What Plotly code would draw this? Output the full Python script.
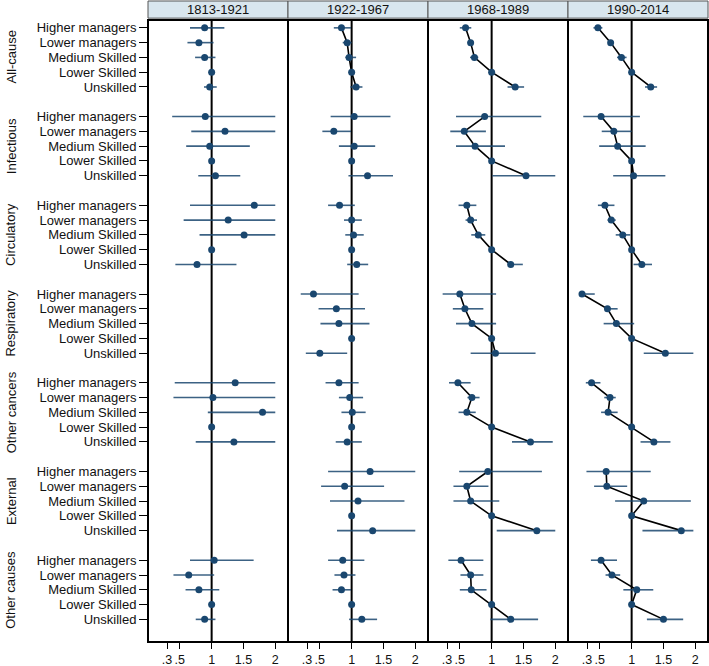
import plotly.graph_objects as go
from plotly.subplots import make_subplots

periods = ["1813-1921", "1922-1967", "1968-1989", "1990-2014"]
causes = ["All-cause", "Infectious", "Circulatory", "Respiratory", "Other cancers", "External", "Other causes"]
classes = ["Higher managers", "Lower managers", "Medium Skilled", "Lower Skilled", "Unskilled"]

# point estimates [period][cause] -> 5 values (None = no data)
est = {
    "1813-1921": {
        "All-cause":     [0.89, 0.80, 0.89, 1.0, 0.97],
        "Infectious":    [0.90, 1.21, 0.97, 1.0, 1.06],
        "Circulatory":   [1.67, 1.26, 1.51, 1.0, 0.77],
        "Respiratory":   None,
        "Other cancers": [1.37, 1.02, 1.80, 1.0, 1.35],
        "External":      None,
        "Other causes":  [1.04, 0.64, 0.80, 1.0, 0.89],
    },
    "1922-1967": {
        "All-cause":     [0.84, 0.93, 0.96, 1.0, 1.07],
        "Infectious":    [1.04, 0.72, 1.04, 1.0, 1.25],
        "Circulatory":   [0.81, 1.00, 1.03, 1.0, 1.08],
        "Respiratory":   [0.40, 0.76, 0.80, 1.0, 0.50],
        "Other cancers": [0.80, 0.97, 1.01, 1.0, 0.93],
        "External":      [1.29, 0.89, 1.10, 1.0, 1.33],
        "Other causes":  [0.86, 0.88, 0.84, 1.0, 1.16],
    },
    "1968-1989": {
        "All-cause":     [0.59, 0.67, 0.73, 1.0, 1.37],
        "Infectious":    [0.89, 0.57, 0.74, 1.0, 1.54],
        "Circulatory":   [0.61, 0.67, 0.79, 1.0, 1.30],
        "Respiratory":   [0.50, 0.58, 0.69, 1.0, 1.06],
        "Other cancers": [0.47, 0.69, 0.61, 1.0, 1.61],
        "External":      [0.94, 0.61, 0.67, 1.0, 1.71],
        "Other causes":  [0.52, 0.67, 0.68, 1.0, 1.30],
    },
    "1990-2014": {
        "All-cause":     [0.47, 0.67, 0.84, 1.0, 1.30],
        "Infectious":    [0.52, 0.72, 0.78, 1.0, 1.03],
        "Circulatory":   [0.58, 0.68, 0.86, 1.0, 1.16],
        "Respiratory":   [0.22, 0.62, 0.76, 1.0, 1.53],
        "Other cancers": [0.37, 0.66, 0.63, 1.0, 1.35],
        "External":      [0.60, 0.61, 1.19, 1.0, 1.78],
        "Other causes":  [0.52, 0.69, 1.08, 1.0, 1.50],
    },
}

ci_low = {
    "1813-1921": {
        "All-cause":     [0.66, 0.62, 0.74, 1.0, 0.88],
        "Infectious":    [0.38, 0.68, 0.60, 1.0, 0.79],
        "Circulatory":   [0.66, 0.56, 0.81, 1.0, 0.43],
        "Respiratory":   None,
        "Other cancers": [0.42, 0.40, 0.94, 1.0, 0.75],
        "External":      None,
        "Other causes":  [0.66, 0.40, 0.59, 1.0, 0.75],
    },
    "1922-1967": {
        "All-cause":     [0.72, 0.86, 0.90, 1.0, 0.98],
        "Infectious":    [0.67, 0.54, 0.80, 1.0, 0.95],
        "Circulatory":   [0.63, 0.88, 0.90, 1.0, 0.93],
        "Respiratory":   [0.20, 0.48, 0.51, 1.0, 0.28],
        "Other cancers": [0.59, 0.80, 0.84, 1.0, 0.75],
        "External":      [0.63, 0.52, 0.66, 1.0, 0.77],
        "Other causes":  [0.63, 0.73, 0.70, 1.0, 0.96],
    },
    "1968-1989": {
        "All-cause":     [0.50, 0.62, 0.66, 1.0, 1.25],
        "Infectious":    [0.44, 0.35, 0.44, 1.0, 1.01],
        "Circulatory":   [0.48, 0.59, 0.68, 1.0, 1.26],
        "Respiratory":   [0.23, 0.39, 0.44, 1.0, 0.67],
        "Other cancers": [0.33, 0.62, 0.48, 1.0, 1.32],
        "External":      [0.49, 0.40, 0.40, 1.0, 1.08],
        "Other causes":  [0.32, 0.51, 0.50, 1.0, 0.98],
    },
    "1990-2014": {
        "All-cause":     [0.40, 0.63, 0.77, 1.0, 1.21],
        "Infectious":    [0.24, 0.53, 0.49, 1.0, 0.71],
        "Circulatory":   [0.47, 0.62, 0.75, 1.0, 1.03],
        "Respiratory":   [0.20, 0.58, 0.56, 1.0, 1.19],
        "Other cancers": [0.28, 0.57, 0.52, 1.0, 1.14],
        "External":      [0.29, 0.41, 0.74, 1.0, 1.17],
        "Other causes":  [0.36, 0.59, 0.87, 1.0, 1.24],
    },
}

ci_high = {
    "1813-1921": {
        "All-cause":     [1.20, 1.03, 1.06, 1.0, 1.08],
        "Infectious":    [2.00, 2.00, 1.60, 1.0, 1.45],
        "Circulatory":   [2.00, 2.00, 2.00, 1.0, 1.39],
        "Respiratory":   None,
        "Other cancers": [2.00, 2.00, 2.00, 1.0, 2.00],
        "External":      None,
        "Other causes":  [1.66, 1.04, 1.12, 1.0, 1.06],
    },
    "1922-1967": {
        "All-cause":     [0.99, 1.00, 1.07, 1.0, 1.17],
        "Infectious":    [1.61, 0.99, 1.37, 1.0, 1.65],
        "Circulatory":   [1.05, 1.16, 1.19, 1.0, 1.26],
        "Respiratory":   [1.11, 1.21, 1.28, 1.0, 0.93],
        "Other cancers": [1.11, 1.18, 1.22, 1.0, 1.16],
        "External":      [2.00, 1.51, 1.83, 1.0, 2.00],
        "Other causes":  [1.20, 1.06, 0.99, 1.0, 1.40],
    },
    "1968-1989": {
        "All-cause":     [0.68, 0.71, 0.79, 1.0, 1.51],
        "Infectious":    [1.78, 0.91, 1.21, 1.0, 2.00],
        "Circulatory":   [0.76, 0.77, 0.90, 1.0, 1.49],
        "Respiratory":   [1.07, 0.87, 1.07, 1.0, 1.69],
        "Other cancers": [0.67, 0.81, 0.75, 1.0, 1.96],
        "External":      [1.79, 0.95, 1.12, 1.0, 2.00],
        "Other causes":  [0.87, 0.87, 0.92, 1.0, 1.73],
    },
    "1990-2014": {
        "All-cause":     [0.54, 0.71, 0.92, 1.0, 1.40],
        "Infectious":    [1.13, 1.00, 1.22, 1.0, 1.53],
        "Circulatory":   [0.73, 0.75, 0.98, 1.0, 1.32],
        "Respiratory":   [0.42, 0.78, 1.04, 1.0, 1.97],
        "Other cancers": [0.51, 0.75, 0.78, 1.0, 1.61],
        "External":      [1.30, 0.93, 1.93, 1.0, 1.97],
        "Other causes":  [0.77, 0.82, 1.34, 1.0, 1.81],
    },
}

# which panels join the points with a line
connect = {
    "1813-1921": [],
    "1922-1967": ["All-cause"],
    "1968-1989": causes,
    "1990-2014": causes,
}

x_tickvals = [0.3, 0.5, 1, 1.5, 2]
x_ticktext = [".3", ".5", "1", "1.5", "2"]

NAVY = "#1a476f"
FONT = "Liberation Sans, Arial, sans-serif"

fig = make_subplots(rows=1, cols=4, shared_yaxes=True, horizontal_spacing=0)

# y positions: 5 rows per group plus a blank row between groups
ypos = {}
row = 0
for c in causes:
    ypos[c] = [row + i for i in range(5)]
    row += 6
n_rows = row - 1

for pi, p in enumerate(periods):
    col = pi + 1
    for c in causes:
        vals = est[p][c]
        if vals is None:
            continue
        ys = ypos[c]
        lo = ci_low[p][c]
        hi = ci_high[p][c]
        if c in connect[p]:
            fig.add_trace(go.Scatter(x=vals, y=ys, mode="lines",
                                     line=dict(color="black", width=1.6),
                                     hoverinfo="skip", showlegend=False), row=1, col=col)
        fig.add_trace(go.Scatter(
            x=vals, y=ys, mode="markers",
            marker=dict(color=NAVY, size=7),
            error_x=dict(type="data", symmetric=False,
                         array=[h - v for h, v in zip(hi, vals)],
                         arrayminus=[v - l for v, l in zip(vals, lo)],
                         width=0, thickness=1.6, color="rgba(26,71,111,0.85)"),
            showlegend=False), row=1, col=col)

    xa = "x" if col == 1 else f"x{col}"
    ya = "y" if col == 1 else f"y{col}"
    # reference line at 1
    fig.add_shape(type="line", xref=xa, yref=f"{ya} domain", x0=1, x1=1, y0=0, y1=1,
                  line=dict(color="black", width=2), layer="below")
    # panel border
    fig.add_shape(type="rect", xref=f"{xa} domain", yref=f"{ya} domain",
                  x0=0, x1=1, y0=0, y1=1, line=dict(color="black", width=2))
    # header strip
    fig.add_shape(type="rect", xref=f"{xa} domain", yref="paper",
                  x0=0, x1=1, y0=1.003, y1=1 + 19 / 622,
                  fillcolor="#d9e6ee", line=dict(color="#555555", width=1))
    fig.add_annotation(text=p, xref=f"{xa} domain", yref="paper", x=0.5,
                       y=1 + 10 / 622, showarrow=False, xanchor="center", yanchor="middle",
                       font=dict(size=13, color="#111111", family=FONT))
    fig.update_xaxes(row=1, col=col, range=[0, 2.2], tickvals=x_tickvals, ticktext=x_ticktext,
                     ticks="outside", ticklen=6, tickcolor="black", tickwidth=1, tickangle=0,
                     showgrid=False, zeroline=False, showline=False, automargin=False,
                     tickfont=dict(size=12.5, color="#111111", family=FONT))

tickvals_y = []
ticktext_y = []
for c in causes:
    tickvals_y += ypos[c]
    ticktext_y += classes

fig.update_yaxes(range=[n_rows + 0.53, -0.53], showgrid=False, zeroline=False, showline=False,
                 automargin=False)
fig.update_yaxes(row=1, col=1, tickvals=tickvals_y, ticktext=ticktext_y, ticks="outside",
                 ticklen=8, tickcolor="black", tickwidth=1,
                 tickfont=dict(size=13, color="#111111", family=FONT))

for c in causes:
    mid = ypos[c][2]
    fig.add_annotation(text=c, xref="paper", yref="y", x=0, y=mid, xshift=-137,
                       textangle=-90, showarrow=False, xanchor="center", yanchor="middle",
                       font=dict(size=13, color="#111111", family=FONT))

fig.update_layout(width=709, height=666, margin=dict(l=148, r=1, t=20, b=24),
                  plot_bgcolor="white", paper_bgcolor="white",
                  font=dict(family=FONT, size=13))

fig.write_html("out.html", config={"displayModeBar": False},
               post_script="document.body.style.margin='0';")
